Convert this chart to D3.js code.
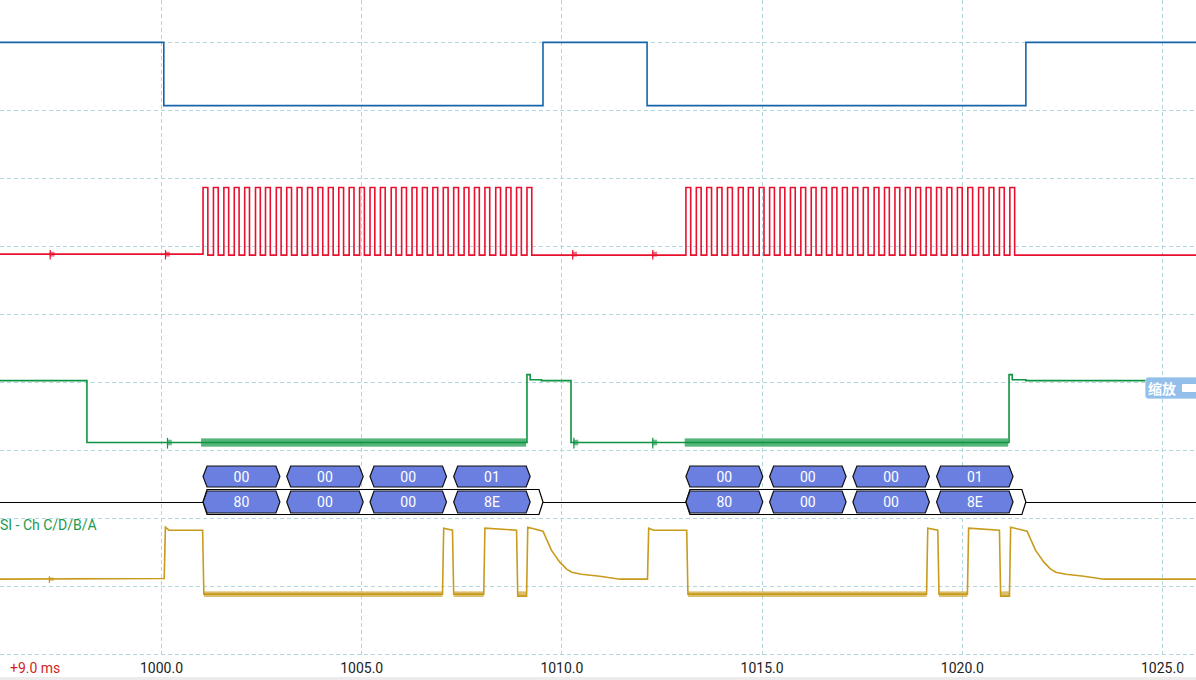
<!DOCTYPE html>
<html>
<head>
<meta charset="utf-8">
<script src="https://cdn.jsdelivr.net/npm/d3@7"></script>
<style>
body { margin: 0; background: #fff; overflow: hidden; }
svg { display: block; font-family: Roboto, "Noto Sans", sans-serif; }
</style>
</head>
<body>
<svg id="chart" width="1196" height="680"></svg>
<script>
// time axis (ms)
const timeTicks = [1000, 1005, 1010, 1015, 1020, 1025];
const offsetLabel = "+9.0 ms";

// channel A (blue) - [time ms, volts], step after
const blueSteps = [[995.9, 3.3], [1000.07, 0], [1009.54, 3.3], [1012.14, 0], [1021.60, 3.3], [1026, 3.3]];

// channel B (red) clock rising edges, ms
const clockRises = [
  1001.05, 1001.31, 1001.57, 1001.83, 1002.09, 1002.36, 1002.61, 1002.88,
  1003.14, 1003.40, 1003.66, 1003.92, 1004.18, 1004.44, 1004.70, 1004.96,
  1005.22, 1005.48, 1005.75, 1006.01, 1006.27, 1006.53, 1006.79, 1007.05,
  1007.31, 1007.57, 1007.83, 1008.09, 1008.36, 1008.62, 1008.88, 1009.14,
  1013.11, 1013.37, 1013.63, 1013.89, 1014.15, 1014.42, 1014.67, 1014.94,
  1015.20, 1015.46, 1015.72, 1015.98, 1016.24, 1016.50, 1016.76, 1017.02,
  1017.28, 1017.54, 1017.81, 1018.07, 1018.33, 1018.59, 1018.85, 1019.11,
  1019.37, 1019.63, 1019.89, 1020.15, 1020.42, 1020.68, 1020.94, 1021.20
];
const clockHighMs = 0.12;
const redGlitches = [997.22, 1000.1, 1010.27, 1012.27];

// channel C (green) - step after
const greenSteps = [[995.9, 3.3], [998.15, 0], [1009.14, 3.62], [1009.22, 3.35], [1009.5, 3.3], [1010.24, 0],
  [1021.18, 3.62], [1021.26, 3.35], [1021.6, 3.3], [1026, 3.3]];
const greenNoise = [[1001.0, 1009.12], [1013.08, 1021.16]];
const greenGlitches = [1000.15, 1010.3, 1012.27];

// channel D (yellow) - raw points, linear
const yellowPoints = [
  [995.9, 0.75], [1000.08, 0.78], [1000.11, 3.35], [1000.2, 3.2], [1001.04, 3.2], [1001.07, 0],
  [1007.03, 0], [1007.06, 3.3], [1007.28, 3.2], [1007.31, 0],
  [1008.06, 0], [1008.09, 3.3], [1008.88, 3.2], [1008.91, -0.1],
  [1009.13, -0.1], [1009.16, 3.35], [1009.54, 3.15],
  [1009.75, 2.2], [1009.96, 1.6], [1010.13, 1.25], [1010.26, 1.1], [1010.5, 1.0], [1010.96, 0.9], [1011.46, 0.75],
  [1012.15, 0.75], [1012.18, 3.3], [1012.3, 3.2], [1013.13, 3.2], [1013.16, 0],
  [1019.12, 0], [1019.15, 3.3], [1019.4, 3.2], [1019.43, 0],
  [1020.14, 0], [1020.17, 3.3], [1020.94, 3.2], [1020.97, -0.1],
  [1021.19, -0.1], [1021.22, 3.35], [1021.63, 3.15],
  [1021.84, 2.2], [1022.05, 1.6], [1022.22, 1.25], [1022.35, 1.1], [1022.6, 1.0], [1023.05, 0.9], [1023.55, 0.75],
  [1026, 0.75]
];
const yellowNoise = [[1001.07, 1007.03], [1007.31, 1008.06], [1008.91, 1009.13],
  [1013.16, 1019.12], [1019.43, 1020.14], [1020.97, 1021.19]];
const yellowGlitches = [997.2];

// serial decoder
const rowOneBytes = ["00", "00", "00", "01", "00", "00", "00", "01"];
const rowTwoBytes = ["80", "00", "00", "8E", "80", "00", "00", "8E"];
const byteStart = [1001.05, 1003.14, 1005.22, 1007.31, 1013.11, 1015.20, 1017.28, 1019.37];
const byteEnd = [1002.97, 1005.05, 1007.13, 1009.22, 1015.03, 1017.11, 1019.19, 1021.28];
const packetSpans = [[1001.05, 1009.54], [1013.11, 1021.60]];
const decoderLabel = "SI - Ch C/D/B/A";

const W = 1196, H = 680;
const svg = d3.select("#chart");

const x = d3.scaleLinear().domain([1000, 1025]).range([161, 1162]);
const yDiv = d3.scaleLinear().domain([0, 9]).range([42, 654]);

// one y scale per channel, volts -> px
const yBlue = d3.scaleLinear().domain([0, 3.3]).range([yDiv(0.935), yDiv(0.005)]);
const yRed = d3.scaleLinear().domain([0, 3.3]).range([yDiv(3.12), yDiv(2.14)]);
const yGreen = d3.scaleLinear().domain([0, 3.3]).range([yDiv(5.89), yDiv(4.98)]);
const yYellow = d3.scaleLinear().domain([0, 3.3]).range([yDiv(8.12), yDiv(7.15)]);

// grid
const grid = svg.append("g").attr("stroke", "#b2d6de").attr("stroke-width", 1).attr("stroke-dasharray", "4,3");
grid.selectAll("line.h").data(d3.range(10)).join("line").attr("class", "h")
  .attr("x1", 0).attr("x2", W)
  .attr("y1", d => Math.round(yDiv(d)) + 0.5).attr("y2", d => Math.round(yDiv(d)) + 0.5);
grid.selectAll("line.v").data(timeTicks).join("line").attr("class", "v")
  .attr("x1", d => Math.round(x(d)) + 0.5).attr("x2", d => Math.round(x(d)) + 0.5)
  .attr("y1", 0).attr("y2", 655);

svg.append("rect").attr("x", 0).attr("y", 677).attr("width", W).attr("height", 3).attr("fill", "#ececec");

function stepTrace(data, y, color) {
  const line = d3.line().x(d => x(d[0])).y(d => y(d[1])).curve(d3.curveStepAfter);
  svg.append("path").datum(data).attr("d", line)
    .attr("fill", "none").attr("stroke", color).attr("stroke-width", 1.6);
}

function rawTrace(data, y, color) {
  const line = d3.line().x(d => x(d[0])).y(d => y(d[1]));
  svg.append("path").datum(data).attr("d", line)
    .attr("fill", "none").attr("stroke", color).attr("stroke-width", 1.6);
}

// fuzzy band for noisy stretches of a trace
function noise(spans, level, amp, y, color, op) {
  svg.append("g").selectAll("rect").data(spans).join("rect")
    .attr("x", d => x(d[0])).attr("width", d => x(d[1]) - x(d[0]))
    .attr("y", y(level + amp)).attr("height", y(level - amp) - y(level + amp))
    .attr("fill", color).attr("opacity", op);
}

// short ringing spike
function glitches(times, level, amp, y, color) {
  const g = svg.append("g").attr("stroke", color).attr("stroke-width", 1.2);
  g.selectAll("line").data(times).join("line")
    .attr("x1", d => x(d) + 0.5).attr("x2", d => x(d) + 0.5)
    .attr("y1", y(level + amp)).attr("y2", y(level - amp * 1.3));
  noise(times.map(t => [t, t + 0.12]), level, amp * 0.6, y, color, 0.6);
}

// blue
stepTrace(blueSteps, yBlue, "#1565ab");

// red clock
const redData = [[995.9, 0]];
clockRises.forEach(t => { redData.push([t, 3.3]); redData.push([t + clockHighMs, -0.05]); });
redData.push([1026, 0]);
glitches(redGlitches, 0, 0.2, yRed, "#e8102f");
stepTrace(redData, yRed, "#e8102f");

// green
noise(greenNoise, 0, 0.22, yGreen, "#0c9442", 0.7);
glitches(greenGlitches, 0, 0.25, yGreen, "#0c9442");
stepTrace(greenSteps, yGreen, "#0c9442");

// yellow
noise(yellowNoise, 0, 0.14, yYellow, "#c89b1c", 0.65);
glitches(yellowGlitches, 0.75, 0.15, yYellow, "#c89b1c");
rawTrace(yellowPoints, yYellow, "#c89b1c");

// decoder
const yRow1 = 476.5, yRow2 = 502;
svg.append("line").attr("x1", 0).attr("x2", W).attr("y1", yRow2 + 0.5).attr("y2", yRow2 + 0.5)
  .attr("stroke", "#000").attr("stroke-width", 1.2);

function hex(x0, x1, yc, h, n) {
  return "M" + x0 + "," + yc + "L" + (x0 + n) + "," + (yc - h / 2) + "L" + (x1 - n) + "," + (yc - h / 2) +
    "L" + x1 + "," + yc + "L" + (x1 - n) + "," + (yc + h / 2) + "L" + (x0 + n) + "," + (yc + h / 2) + "Z";
}

svg.append("g").selectAll("path").data(packetSpans).join("path")
  .attr("d", d => hex(x(d[0]), x(d[1]), yRow2, 25, 4))
  .attr("fill", "#fff").attr("stroke", "#000").attr("stroke-width", 1.2);

function byteRow(labels, yc, h) {
  const g = svg.append("g");
  g.selectAll("path").data(labels).join("path")
    .attr("d", (d, i) => hex(x(byteStart[i]), x(byteEnd[i]), yc, h, 4))
    .attr("fill", "#6b7fe0").attr("stroke", "#111").attr("stroke-width", 1.2);
  g.selectAll("text").data(labels).join("text")
    .attr("x", (d, i) => (x(byteStart[i]) + x(byteEnd[i])) / 2)
    .attr("y", yc + 5)
    .attr("text-anchor", "middle").attr("fill", "#fff").attr("font-size", 14)
    .text(d => d);
}
byteRow(rowOneBytes, yRow1, 21);
byteRow(rowTwoBytes, yRow2, 22);

svg.append("text").attr("x", 0).attr("y", 530).attr("fill", "#1a9a4e").attr("font-size", 14)
  .text(decoderLabel);

// zoom badge
const badge = svg.append("g");
badge.append("rect").attr("x", 1145.5).attr("y", 377.5).attr("width", 60).attr("height", 21).attr("rx", 3)
  .attr("fill", "#94bfea").attr("stroke", "#b9d6f2");
badge.append("text").attr("x", 1148).attr("y", 394).attr("fill", "#fff").attr("font-size", 14)
  .attr("font-weight", "bold").attr("font-family", "'Noto Sans CJK SC', sans-serif").text("缩放");
badge.append("rect").attr("x", 1182).attr("y", 384).attr("width", 16).attr("height", 8).attr("rx", 1).attr("fill", "#fff");

// axis
const axis = svg.append("g").attr("transform", "translate(0,655)")
  .call(d3.axisBottom(x).tickValues(timeTicks).tickFormat(d3.format(".1f")).tickSize(0).tickPadding(8));
axis.select(".domain").remove();
axis.selectAll("text").attr("font-size", 14).attr("fill", "#222").attr("font-family", "Roboto, sans-serif");

svg.append("text").attr("x", 10).attr("y", 673).attr("fill", "#d41e1e").attr("font-size", 14)
  .text(offsetLabel);
</script>
</body>
</html>
